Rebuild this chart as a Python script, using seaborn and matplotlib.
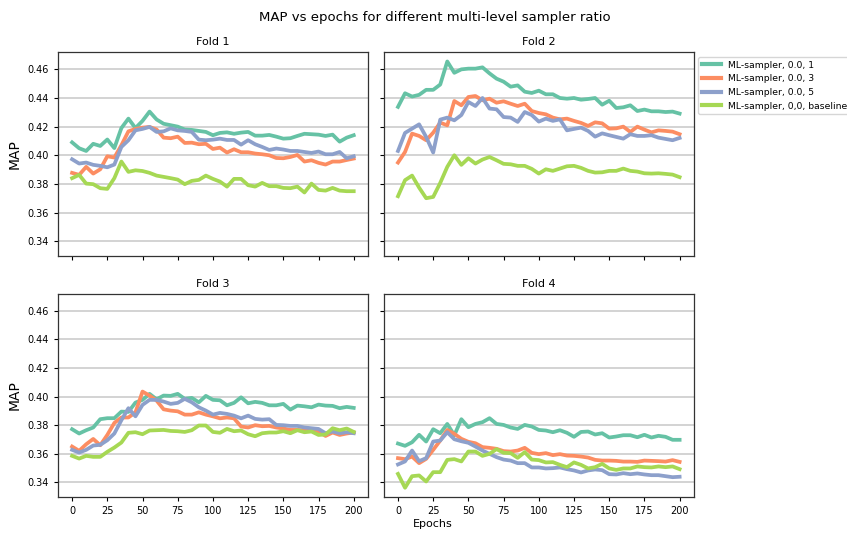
import numpy as np
import pandas as pd
import matplotlib
matplotlib.use("Agg")
import matplotlib.pyplot as plt
import seaborn as sns

# ---------------------------------------------------------------- data
epochs = list(range(0, 201, 5))

series_labels = [
    "ML-sampler, 0.0, 1",
    "ML-sampler, 0.0, 3",
    "ML-sampler, 0.0, 5",
    "ML-sampler, 0,0, baseline",
]
fold_titles = ["Fold 1", "Fold 2", "Fold 3", "Fold 4"]
y_ticks = [0.34, 0.36, 0.38, 0.40, 0.42, 0.44, 0.46]
x_ticks = [0, 25, 50, 75, 100, 125, 150, 175, 200]

fold1_r1 = [0.409, 0.4049, 0.403, 0.408, 0.4065, 0.411, 0.405, 0.419, 0.4256, 0.419,
            0.424, 0.4305, 0.425, 0.422, 0.421, 0.420, 0.418, 0.4177, 0.417, 0.4163,
            0.414, 0.4156, 0.416, 0.415, 0.4158, 0.4163, 0.4137, 0.4137, 0.4142, 0.413,
            0.4116, 0.4119, 0.4135, 0.415, 0.4147, 0.4144, 0.4135, 0.4144, 0.4095, 0.4123,
            0.414]
fold1_r3 = [0.3877, 0.3863, 0.3919, 0.3872, 0.3902, 0.3993, 0.3984, 0.407, 0.4167, 0.4184,
            0.4193, 0.4198, 0.418, 0.4123, 0.4119, 0.413, 0.4086, 0.4088, 0.4077, 0.408,
            0.4044, 0.4053, 0.4019, 0.4042, 0.4021, 0.4021, 0.4012, 0.4007, 0.400, 0.3981,
            0.3979, 0.3988, 0.4002, 0.3956, 0.3965, 0.3947, 0.3935, 0.3956, 0.3956, 0.3967,
            0.3977]
fold1_r5 = [0.3972, 0.3942, 0.3949, 0.3933, 0.3926, 0.3916, 0.3935, 0.4058, 0.4105, 0.4174,
            0.4184, 0.4198, 0.4163, 0.4167, 0.4188, 0.4174, 0.417, 0.4163, 0.4109, 0.4105,
            0.4109, 0.4116, 0.4107, 0.4107, 0.4074, 0.4105, 0.4077, 0.4058, 0.4037, 0.4047,
            0.404, 0.403, 0.403, 0.4023, 0.4016, 0.4026, 0.4007, 0.4007, 0.4023, 0.3979,
            0.3993]
fold1_base = [0.384, 0.3863, 0.3802, 0.3798, 0.377, 0.3765, 0.384, 0.3956, 0.3884, 0.3895,
              0.389, 0.3877, 0.3858, 0.3849, 0.384, 0.383, 0.3798, 0.3821, 0.3828, 0.3858,
              0.3835, 0.3816, 0.3781, 0.3835, 0.3835, 0.3791, 0.3781, 0.3807, 0.3784, 0.3784,
              0.3772, 0.377, 0.3781, 0.374, 0.3802, 0.3758, 0.3753, 0.3772, 0.3753, 0.3749,
              0.3749]

fold2_r1 = [0.4338, 0.4433, 0.441, 0.4422, 0.4457, 0.4457, 0.4494, 0.4655, 0.4576, 0.460,
            0.4605, 0.4605, 0.4614, 0.4572, 0.4535, 0.4514, 0.4479, 0.4488, 0.4444, 0.4435,
            0.4451, 0.4426, 0.4426, 0.440, 0.4395, 0.440, 0.4388, 0.4393, 0.440, 0.4353,
            0.4381, 0.433, 0.4335, 0.4349, 0.4309, 0.4319, 0.4307, 0.4307, 0.4302, 0.4305,
            0.4291]
fold2_r3 = [0.3949, 0.4023, 0.4151, 0.4135, 0.4105, 0.4158, 0.4228, 0.4209, 0.4379, 0.4349,
            0.4407, 0.4414, 0.4384, 0.4395, 0.4367, 0.4377, 0.436, 0.4344, 0.436, 0.4309,
            0.4295, 0.4286, 0.4263, 0.4251, 0.4256, 0.424, 0.4226, 0.4205, 0.423, 0.4223,
            0.4186, 0.4188, 0.420, 0.4163, 0.420, 0.4179, 0.416, 0.4174, 0.417, 0.4165,
            0.4147]
fold2_r5 = [0.403, 0.4156, 0.4186, 0.4216, 0.4128, 0.4019, 0.4249, 0.4263, 0.4244, 0.4281,
            0.4372, 0.4344, 0.440, 0.4326, 0.4321, 0.4267, 0.4263, 0.4233, 0.4302, 0.4281,
            0.4235, 0.4256, 0.424, 0.4251, 0.4174, 0.4184, 0.4193, 0.417, 0.413, 0.4153,
            0.414, 0.4128, 0.4116, 0.4147, 0.4135, 0.4135, 0.414, 0.4123, 0.4114, 0.4105,
            0.4121]
fold2_base = [0.3714, 0.3826, 0.3858, 0.3774, 0.370, 0.3709, 0.3807, 0.3919, 0.400, 0.3933,
              0.3979, 0.3942, 0.397, 0.3988, 0.3965, 0.394, 0.3937, 0.3926, 0.3926, 0.3905,
              0.3872, 0.3902, 0.3891, 0.3907, 0.3923, 0.3926, 0.3912, 0.3891, 0.3879, 0.3881,
              0.3891, 0.3891, 0.3907, 0.3891, 0.3886, 0.3874, 0.3872, 0.3874, 0.387, 0.3865,
              0.3847]

fold3_r1 = [0.3772, 0.3742, 0.3765, 0.3784, 0.3842, 0.3849, 0.3849, 0.3895, 0.3893, 0.3958,
            0.3977, 0.4019, 0.3981, 0.4007, 0.4005, 0.4019, 0.3984, 0.3991, 0.396, 0.4005,
            0.3977, 0.3974, 0.3939, 0.3956, 0.3995, 0.3953, 0.3963, 0.3956, 0.3939, 0.3939,
            0.3949, 0.3909, 0.3937, 0.3932, 0.3925, 0.3944, 0.3937, 0.3935, 0.3919, 0.3928,
            0.3921]
fold3_r3 = [0.3651, 0.3621, 0.3667, 0.3704, 0.366, 0.3732, 0.3816, 0.3854, 0.3854, 0.389,
            0.4035, 0.4007, 0.3972, 0.3911, 0.3902, 0.3897, 0.3874, 0.3874, 0.389, 0.3874,
            0.3862, 0.3848, 0.3854, 0.3848, 0.3791, 0.3784, 0.380, 0.3793, 0.3795, 0.3784,
            0.3777, 0.3767, 0.3767, 0.3765, 0.3765, 0.3756, 0.3725, 0.3749, 0.3732, 0.3742,
            0.3749]
fold3_r5 = [0.3628, 0.3609, 0.3628, 0.3658, 0.3663, 0.3695, 0.3742, 0.3835, 0.3919, 0.3862,
            0.3942, 0.3977, 0.3977, 0.3965, 0.3949, 0.3956, 0.3984, 0.396, 0.3925, 0.3902,
            0.3874, 0.3886, 0.3879, 0.3867, 0.3848, 0.3867, 0.3844, 0.3839, 0.3842, 0.3802,
            0.380, 0.3795, 0.3795, 0.3784, 0.3779, 0.3774, 0.3744, 0.3756, 0.3744, 0.3751,
            0.3744]
fold3_base = [0.3586, 0.3567, 0.3586, 0.3579, 0.3579, 0.3614, 0.3644, 0.3679, 0.3747, 0.3751,
              0.3737, 0.3763, 0.3765, 0.3767, 0.376, 0.3758, 0.3753, 0.3765, 0.3798, 0.3798,
              0.3753, 0.3747, 0.3774, 0.3758, 0.3763, 0.3737, 0.3723, 0.3744, 0.3749, 0.3749,
              0.3758, 0.3744, 0.3765, 0.3751, 0.3756, 0.3732, 0.3735, 0.3779, 0.3765, 0.3777,
              0.3753]

fold4_r1 = [0.3672, 0.3656, 0.3681, 0.3733, 0.3686, 0.3772, 0.3744, 0.3809, 0.373, 0.3842,
            0.3786, 0.3809, 0.3821, 0.3849, 0.3809, 0.3802, 0.3784, 0.3774, 0.3802, 0.3791,
            0.3767, 0.3763, 0.3751, 0.3765, 0.3747, 0.3719, 0.3753, 0.3756, 0.3735, 0.3744,
            0.3714, 0.3721, 0.373, 0.373, 0.3716, 0.3733, 0.3714, 0.3726, 0.3719, 0.3698,
            0.3698]
fold4_r3 = [0.357, 0.3563, 0.3581, 0.3535, 0.3565, 0.3628, 0.3693, 0.3767, 0.374, 0.3705,
            0.3684, 0.3674, 0.3647, 0.3642, 0.3635, 0.3619, 0.3616, 0.3623, 0.3642, 0.3607,
            0.3598, 0.3605, 0.3591, 0.3598, 0.3588, 0.3586, 0.3581, 0.3574, 0.3558, 0.3553,
            0.3553, 0.3551, 0.3546, 0.3546, 0.3544, 0.3553, 0.3551, 0.3549, 0.3546, 0.3556,
            0.3544]
fold4_r5 = [0.3526, 0.3547, 0.3623, 0.3549, 0.357, 0.3686, 0.3693, 0.3751, 0.3702, 0.3688,
            0.3677, 0.3651, 0.3623, 0.360, 0.3577, 0.356, 0.3553, 0.3535, 0.3535, 0.3505,
            0.3505, 0.3498, 0.350, 0.3505, 0.3493, 0.3484, 0.347, 0.3484, 0.3491, 0.3486,
            0.3458, 0.3456, 0.3465, 0.3458, 0.3463, 0.3456, 0.3451, 0.3451, 0.3444, 0.3437,
            0.344]
fold4_base = [0.346, 0.3363, 0.3444, 0.3449, 0.3407, 0.3472, 0.3472, 0.3558, 0.3563, 0.3547,
              0.3616, 0.3616, 0.3586, 0.360, 0.3633, 0.3607, 0.3605, 0.3572, 0.3612, 0.356,
              0.3556, 0.354, 0.3542, 0.3523, 0.3507, 0.354, 0.3523, 0.3498, 0.3507, 0.353,
              0.3498, 0.3488, 0.3498, 0.3498, 0.3512, 0.3507, 0.3505, 0.3512, 0.3507, 0.3512,
              0.3493]

folds = [
    [fold1_r1, fold1_r3, fold1_r5, fold1_base],
    [fold2_r1, fold2_r3, fold2_r5, fold2_base],
    [fold3_r1, fold3_r3, fold3_r5, fold3_base],
    [fold4_r1, fold4_r3, fold4_r5, fold4_base],
]

# long-form table for seaborn
rows = []
for title, fold in zip(fold_titles, folds):
    for label, values in zip(series_labels, fold):
        for ep, v in zip(epochs, values):
            rows.append({"fold": title, "sampler": label, "epoch": ep, "MAP": v})
df = pd.DataFrame(rows)

# ---------------------------------------------------------------- style
plt.rcParams.update({
    "font.family": ["DejaVu Sans"],
    "xtick.labelsize": 7,
    "ytick.labelsize": 7,
    "xtick.major.size": 3,
    "ytick.major.size": 3,
    "axes.edgecolor": "#333333",
    "axes.linewidth": 0.9,
})
set2 = sns.color_palette("Set2", 8)
palette = dict(zip(series_labels, [set2[0], set2[1], set2[2], set2[4]]))

fig, axes = plt.subplots(2, 2, figsize=(8.47, 5.33), dpi=100,
                         sharex=True, sharey=True)
fig.subplots_adjust(left=0.0685, right=0.819, top=0.902, bottom=0.0675,
                    wspace=0.052, hspace=0.186)

for ax, title in zip(axes.flat, fold_titles):
    sns.lineplot(data=df[df["fold"] == title], x="epoch", y="MAP",
                 hue="sampler", hue_order=series_labels, palette=palette,
                 linewidth=2.7, legend=False, ax=ax)
    ax.set_title(title, fontsize=8, pad=5)
    ax.set_xlabel("")
    ax.set_ylabel("")
    ax.grid(axis="y", color="#c8c8c8", linewidth=1.1)
    ax.set_axisbelow(True)
    ax.set_yticks(y_ticks)
    ax.set_xticks(x_ticks)
    ax.yaxis.set_major_formatter(matplotlib.ticker.FormatStrFormatter("%.2f"))

for ax in axes[:, 0]:
    ax.set_ylabel("MAP", fontsize=10)

handles = [matplotlib.lines.Line2D([], [], color=palette[s], linewidth=3)
           for s in series_labels]
axes[0, 1].legend(handles, series_labels, loc="upper left",
                  bbox_to_anchor=(1.0, 1.0), fontsize=6.7, frameon=True)

fig.suptitle("MAP vs epochs for different multi-level sampler ratio",
             x=0.513, y=0.968, va="center", fontsize=9.5)
fig.text(0.511, 0.016, "Epochs", ha="center", va="center", fontsize=8)

fig.savefig("out.png", dpi=100)
